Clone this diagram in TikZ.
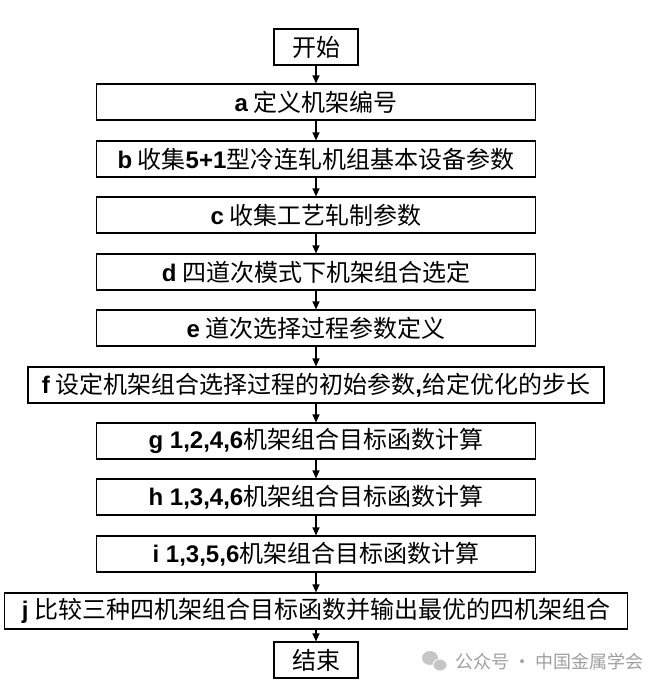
\documentclass[tikz,border=0pt]{standalone}
\usepackage{fontspec}
\newfontfamily\cjk{Noto Sans CJK SC}
\newfontfamily\latin{Liberation Sans}
\newcommand{\lt}[1]{{\latin\bfseries #1}}
\usetikzlibrary{positioning, arrows.meta}

\tikzset{
  stepbox/.style={draw, line width=1.2pt, fill=white, minimum height=36pt, inner sep=0pt,
    font=\cjk\fontsize{24}{27}\selectfont},
  flow/.style={-{Triangle[length=8pt,width=7pt]}, line width=1.2pt}
}

\begin{document}
\begin{tikzpicture}[x=1pt,y=1pt]
                  \useasboundingbox (0,0) rectangle (664,-694);
                  % Nodes
                  \node[stepbox, minimum width=84pt] (start) at (316,-47) {开始};
                  \foreach \s/\y/\w/\txt in {a/102/439/{\lt{a} 定义机架编号},
                      b/159/439/{\lt{b} 收集\lt{5+1}型冷连轧机组基本设备参数},
                      c/215/439/{\lt{c} 收集工艺轧制参数},
                      d/272/439/{\lt{d} 四道次模式下机架组合选定},
                      e/328/439/{\lt{e} 道次选择过程参数定义},
                      f/385/576/{\lt{f} 设定机架组合选择过程的初始参数\lt{,}给定优化的步长},
                      g/441/439/{\lt{g 1,2,4,6}机架组合目标函数计算},
                      h/497/439/{\lt{h 1,3,4,6}机架组合目标函数计算},
                      i/554/439/{\lt{i 1,3,5,6}机架组合目标函数计算},
                      j/611/623/{\lt{j} 比较三种四机架组合目标函数并输出最优的四机架组合}}
                  \node[stepbox, minimum width=\w pt] (\s) at (316,-\y) {\txt};
                  \node[stepbox, minimum width=84pt] (stop) at (316,-660) {结束};

                  % Arrows
                  \foreach \p/\q in {start/a, a/b, b/c, c/d, d/e, e/f, f/g, g/h, h/i, i/j, j/stop}
                  \draw[flow] (\p) -- (\q);

                  % Watermark
                  \fill[gray!45] (430,-658) ellipse (8pt and 7pt);
                  \fill[gray!45, draw=white, line width=0.8pt] (440,-665) ellipse (7pt and 6pt);
                  \node[anchor=west, text=gray!75, font=\cjk\fontsize{18}{21}\selectfont] (mark) at (452,-662) {公众号 · 中国金属学会};
              \end{tikzpicture}
\end{document}
